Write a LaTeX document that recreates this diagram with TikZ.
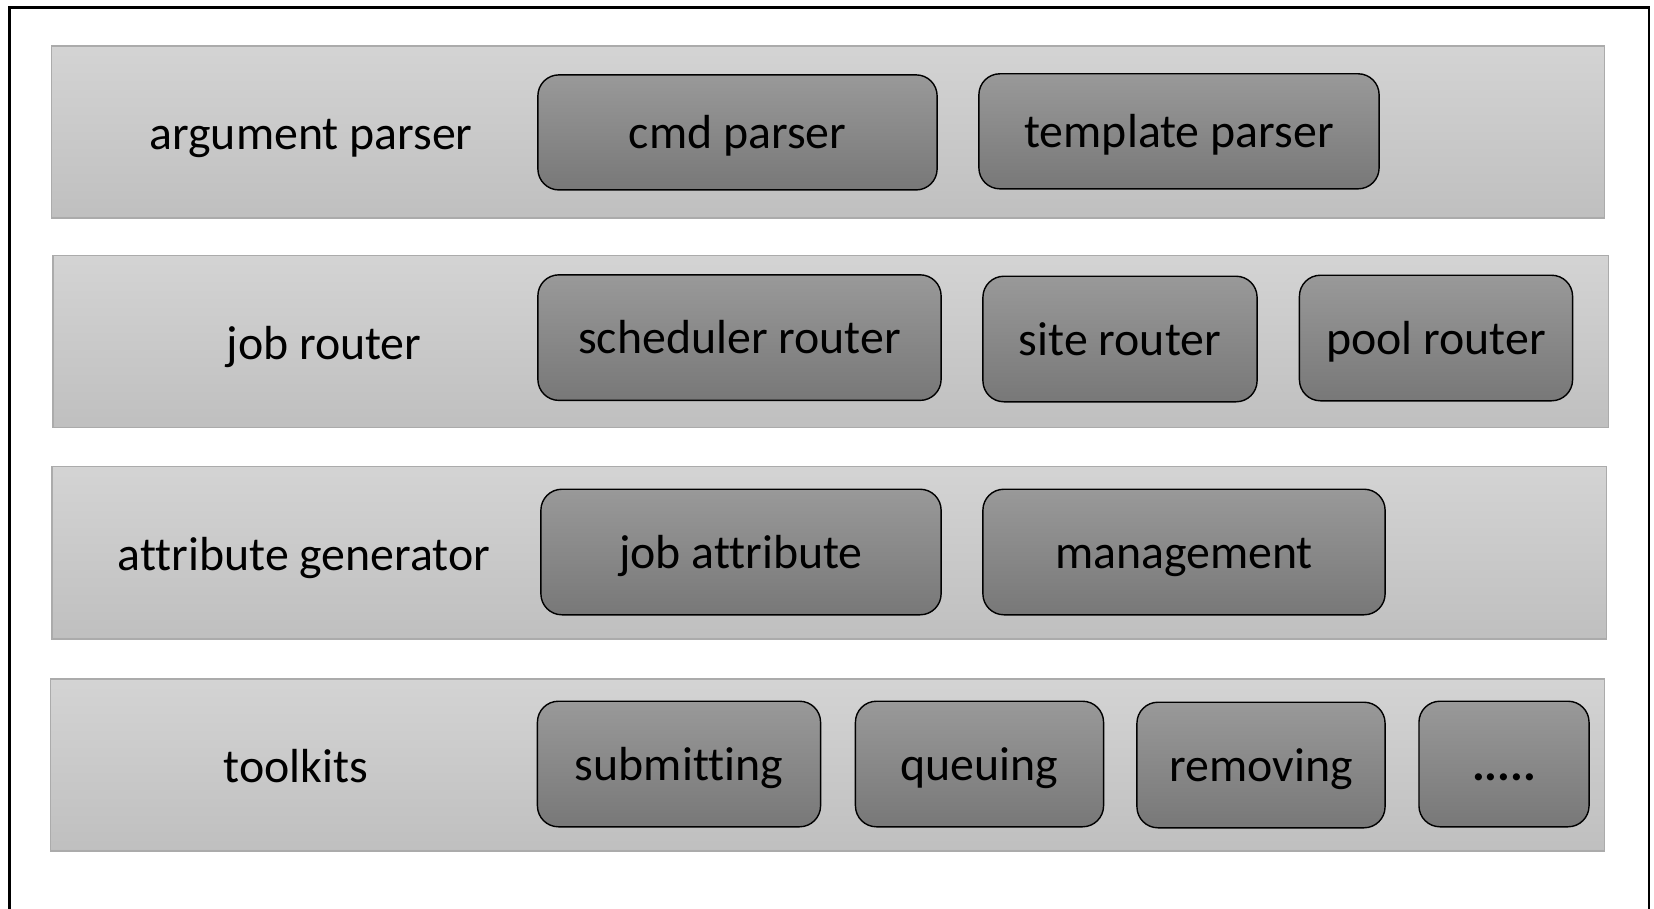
\documentclass[tikz,border=0pt]{standalone}
\usepackage{fontspec}
\setmainfont{Carlito}[Ligatures=NoCommon]

\begin{document}
\begin{tikzpicture}[x=0.01cm,y=-0.01cm,
  layer/.style={draw=black!33,top color=black!17,bottom color=black!25,minimum height=1.72cm,inner sep=0pt},
  part/.style={draw=black,rounded corners=0.21cm,top color=black!40,bottom color=black!53,minimum height=1.255cm,inner sep=0pt,font=\fontsize{13.6}{16}\selectfont,text height=10.4pt,text depth=1.2pt},
  caption/.style={font=\fontsize{13.6}{16}\selectfont,text height=10.4pt,text depth=1.2pt}]
\useasboundingbox (0,0) rectangle (1654,908);
\draw[line width=.65pt](9.5,930)|-(1648.8,7.4)--(1648.8,930);
% layers
\node[layer,minimum width=15.52cm](argband) at (828.2,131.9){};
\node[layer,minimum width=15.55cm](routeband) at (830.8,341.3){};
\node[layer,minimum width=15.54cm](attrband) at (829.3,552.8){};
\node[layer,minimum width=15.53cm](toolband) at (827.7,764.9){};
% argument parser
\node[caption](argparser) at (311,133){argument parser};
\node[part,minimum width=3.99cm,minimum height=1.15cm](cmdparser) at (737.5,132.4){cmd parser};
\node[part,minimum width=4cm,minimum height=1.15cm](tplparser) at (1179,131.3){template parser};
% job router
\node[caption](jobrouter) at (324,343){job router};
\node[part,minimum width=4.03cm](schedrouter) at (739.5,337.6){scheduler router};
\node[part,minimum width=2.74cm](siterouter) at (1120,339){site router};
\node[part,minimum width=2.73cm](poolrouter) at (1436,338){pool router};
% attribute generator
\node[caption](attrgen) at (304,554){attribute generator};
\node[part,minimum width=4cm](jobattr) at (741,552){job attribute};
\node[part,minimum width=4.02cm](mgmt) at (1184,552){management};
% toolkits
\node[caption](toolkits) at (296,766){toolkits};
\node[part,minimum width=2.83cm](submit) at (679,764){submitting};
\node[part,minimum width=2.48cm](queue) at (979.5,764){queuing};
\node[part,minimum width=2.48cm](remove) at (1261,765){removing};
\node[part,minimum width=1.7cm](more) at (1504,764){\textbf{.....}};
\end{tikzpicture}
\end{document}
